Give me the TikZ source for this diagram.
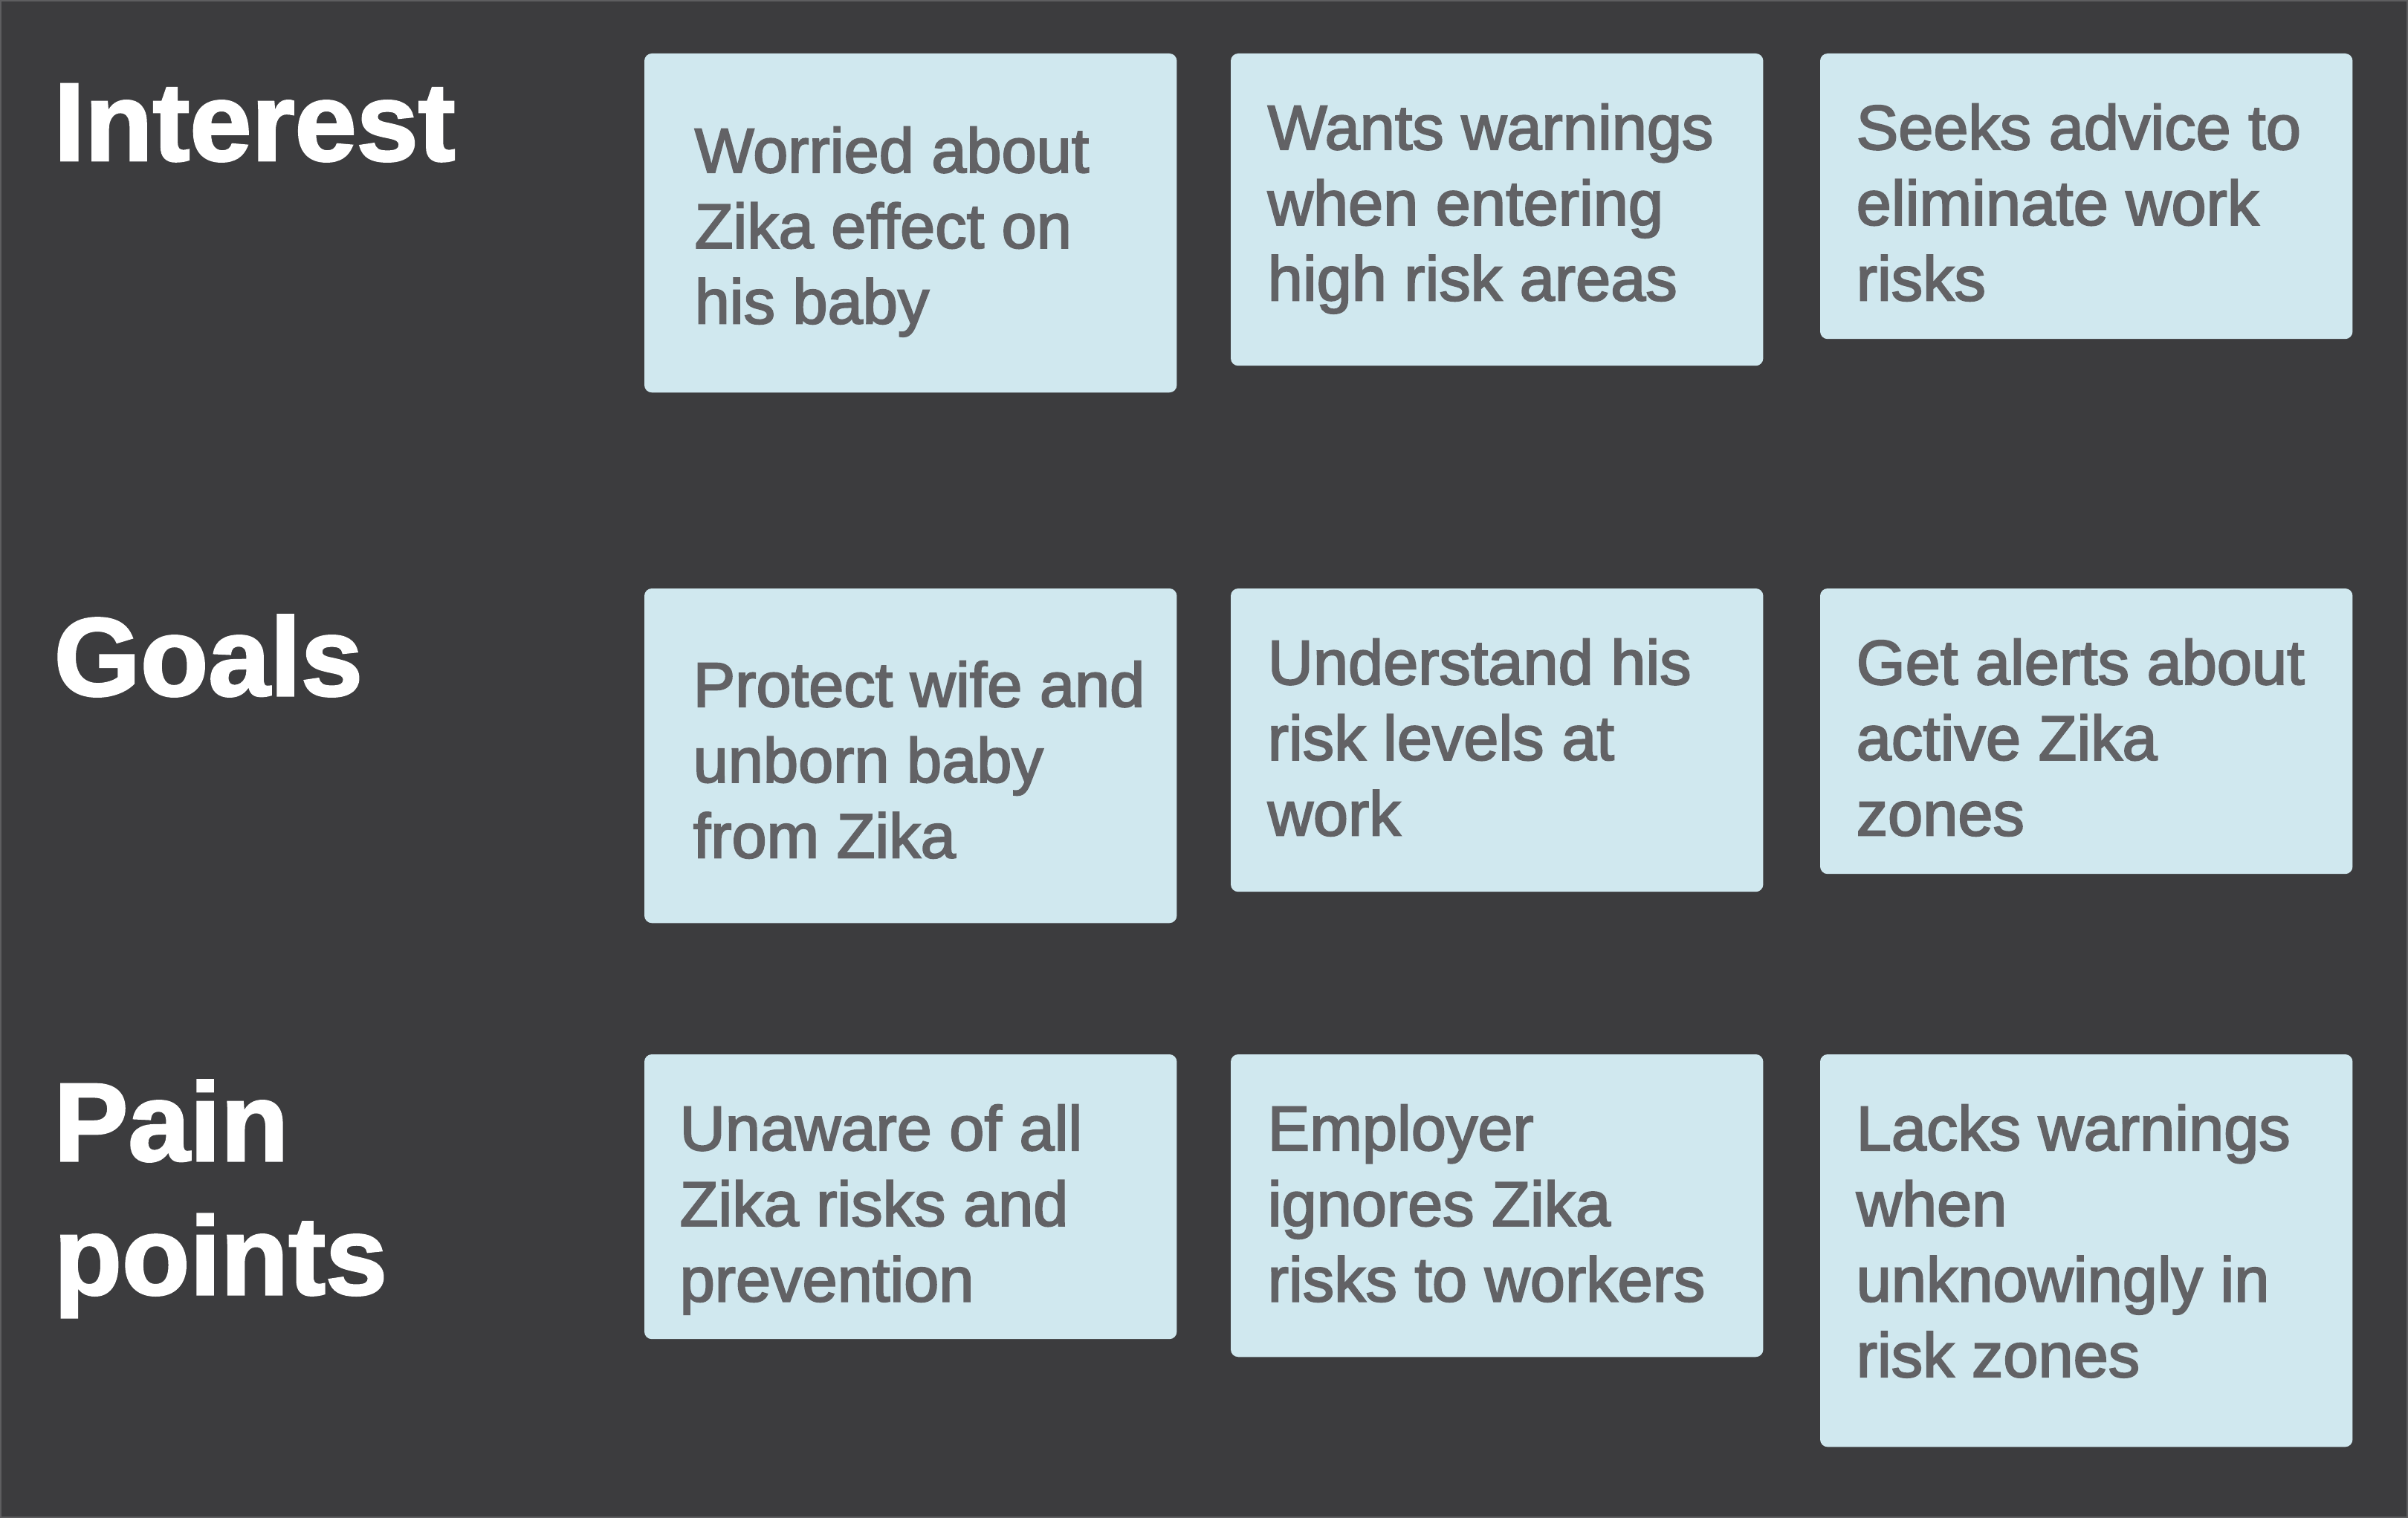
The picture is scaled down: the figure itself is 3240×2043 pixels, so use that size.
\documentclass[tikz,border=0pt]{standalone}
\usepackage{fontspec}
\setmainfont{Liberation Sans}
\newfontfamily\bodyfont{Liberation Sans}[FakeBold=2.4]
\newfontfamily\headfont{Liberation Sans}[BoldFeatures={FakeBold=2.0}]
\definecolor{bgc}{HTML}{3C3C3E}
\definecolor{framec}{HTML}{5E5E60}
\definecolor{cardc}{HTML}{D0E8EF}
\definecolor{txtc}{HTML}{626265}
\newcommand\stack[1]{\begin{tabular}[t]{@{}l@{}}#1\end{tabular}}
\begin{document}
\begin{tikzpicture}[x=0.01cm,y=-0.01cm,
  card/.style={fill=cardc, draw=none, rounded corners=0.1cm, inner sep=0pt, outer sep=0pt,
               anchor=north west, minimum width=7.16cm},
  body/.style={anchor=base west, inner sep=0pt, text=txtc,
               font=\bodyfont\fontsize{24.1pt}{28.93pt}\selectfont},
  head/.style={anchor=base west, inner sep=0pt, text=white,
               font=\headfont\bfseries\fontsize{42.5pt}{51.2pt}\selectfont}]
\useasboundingbox (0,0) rectangle (3240,2043);
\fill[bgc] (0,0) rectangle (3240,2043);
\draw[framec, line width=0.02cm] (1,1) rectangle (3239,2042);

% headings
\node[head] (hInterest) at (72,216) {Interest};
\node[head] (hGoals) at (72,936) {Goals};
\node[head] (hPain) at (72,1562) {\stack{Pain\\points}};

% row 1
\node[card, minimum height=4.56cm] (c11) at (867,72) {};
\node[card, minimum height=4.20cm] (c12) at (1656,72) {};
\node[card, minimum height=3.84cm] (c13) at (2449,72) {};
\node[body] (t11) at (934,232) {\stack{Worried about\\Zika effect on\\his baby}};
\node[body] (t12) at (1705,201) {\stack{Wants warnings\\when entering\\high risk areas}};
\node[body] (t13) at (2497,201) {\stack{Seeks advice to\\eliminate work\\risks}};

% row 2
\node[card, minimum height=4.50cm] (c21) at (867,792) {};
\node[card, minimum height=4.08cm] (c22) at (1656,792) {};
\node[card, minimum height=3.84cm] (c23) at (2449,792) {};
\node[body] (t21) at (932,951) {\stack{Protect wife and\\unborn baby\\from Zika}};
\node[body] (t22) at (1705,921) {\stack{Understand his\\risk levels at\\work}};
\node[body] (t23) at (2497,921) {\stack{Get alerts about\\active Zika\\zones}};

% row 3
\node[card, minimum height=3.83cm] (c31) at (867,1419) {};
\node[card, minimum height=4.07cm] (c32) at (1656,1419) {};
\node[card, minimum height=5.28cm] (c33) at (2449,1419) {};
\node[body] (t31) at (914,1548) {\stack{Unaware of all\\Zika risks and\\prevention}};
\node[body] (t32) at (1705,1548) {\stack{Employer\\ignores Zika\\risks to workers}};
\node[body] (t33) at (2497,1548) {\stack{Lacks warnings\\when\\unknowingly in\\risk zones}};
\end{tikzpicture}
\end{document}
